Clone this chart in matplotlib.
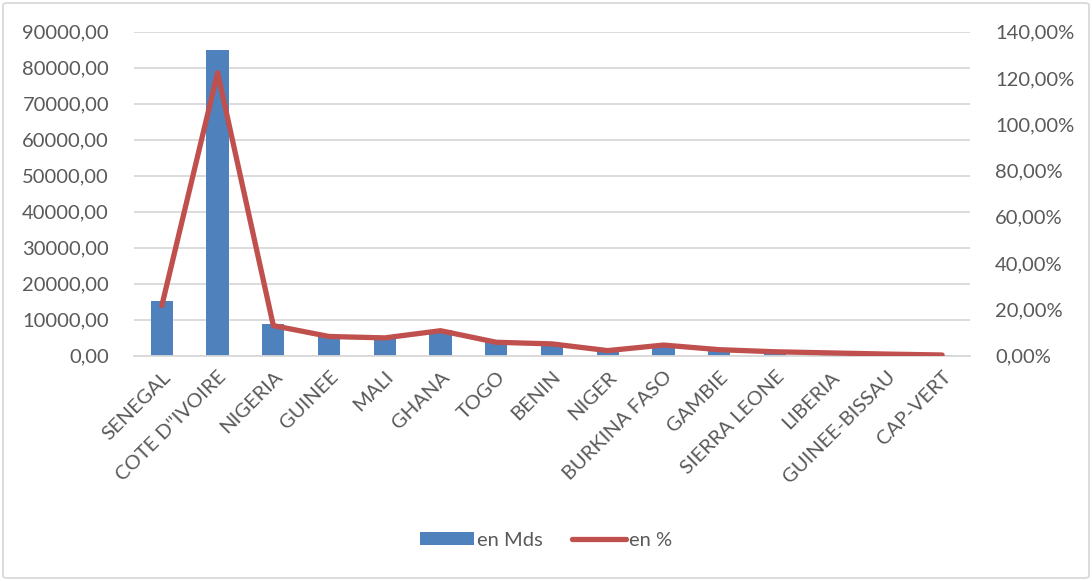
import matplotlib.pyplot as plt
from matplotlib.patches import Patch, FancyBboxPatch
from matplotlib.lines import Line2D
from matplotlib.ticker import FuncFormatter, MultipleLocator

# Data
countries = ["SENEGAL", "COTE D''IVOIRE", "NIGERIA", "GUINEE", "MALI", "GHANA",
             "TOGO", "BENIN", "NIGER", "BURKINA FASO", "GAMBIE", "SIERRA LEONE",
             "LIBERIA", "GUINEE-BISSAU", "CAP-VERT"]
en_mds = [15200, 84800, 8900, 5300, 4750, 7150, 3800, 2900, 1250, 3300,
          1850, 800, 500, 350, 200]
en_pct = [21.7, 122.3, 13.0, 8.3, 7.7, 10.8, 5.8, 5.1, 2.2, 4.6,
          2.6, 1.7, 1.2, 0.7, 0.3]

plt.rcParams['font.family'] = ['Lato', 'DejaVu Sans']
text_col = '#595959'
bar_col = '#4F81BD'
line_col = '#C0504D'
grid_col = '#D9D9D9'
fs = 14.5

fig = plt.figure(figsize=(10.92, 5.81), dpi=100)
ax = fig.add_axes([134/1092, 1 - 355.7/581, (970-134)/1092, (355.7-31.7)/581])
ax2 = ax.twinx()

x = list(range(len(countries)))
ax.bar(x, en_mds, width=0.4, color=bar_col, zorder=2)
ax2.plot(x, en_pct, color=line_col, lw=3.8, solid_capstyle='round',
         solid_joinstyle='round', zorder=3)

ax.set_xlim(-0.5, len(countries) - 0.5)
ax.set_ylim(0, 90000)
ax2.set_ylim(0, 140)
ax.yaxis.set_major_locator(MultipleLocator(10000))
ax2.yaxis.set_major_locator(MultipleLocator(20))
ax.yaxis.set_major_formatter(FuncFormatter(lambda v, p: f"{v:.2f}".replace('.', ',')))
ax2.yaxis.set_major_formatter(FuncFormatter(lambda v, p: f"{v:.2f}".replace('.', ',') + '%'))

ax.grid(axis='y', color=grid_col, lw=1.3, zorder=0)
ax.set_axisbelow(True)
for a in (ax, ax2):
    for s in a.spines.values():
        s.set_visible(False)
    a.tick_params(length=0, labelsize=fs, labelcolor=text_col)
ax.spines['bottom'].set_visible(True)
ax.spines['bottom'].set_color(grid_col)
ax.spines['bottom'].set_linewidth(1.3)
ax.tick_params(axis='y', pad=18)
ax2.tick_params(axis='y', pad=18)

ax.set_xticks(x)
ax.set_xticklabels(countries, rotation=45, ha='right', rotation_mode='anchor')
ax.tick_params(axis='x', pad=9)

handles = [Patch(facecolor=bar_col, edgecolor='none'),
           Line2D([0], [0], color=line_col, lw=3.8, solid_capstyle='round')]
fig.legend(handles, ["en Mds", "en %"], loc='center', bbox_to_anchor=(0.5, 1 - 540/581),
           ncol=2, frameon=False, fontsize=fs, labelcolor=text_col,
           handlelength=2.7, handleheight=0.65, handletextpad=0.15, columnspacing=1.45)

# Outer chart border
fig.patches.append(FancyBboxPatch((3/1092, 3/581), 1 - 6/1092, 1 - 6/581,
                                  boxstyle='round,pad=0,rounding_size=0.004',
                                  transform=fig.transFigure, fill=False,
                                  edgecolor='#D9D9D9', lw=1.3))

fig.savefig('out.png', dpi=100)
